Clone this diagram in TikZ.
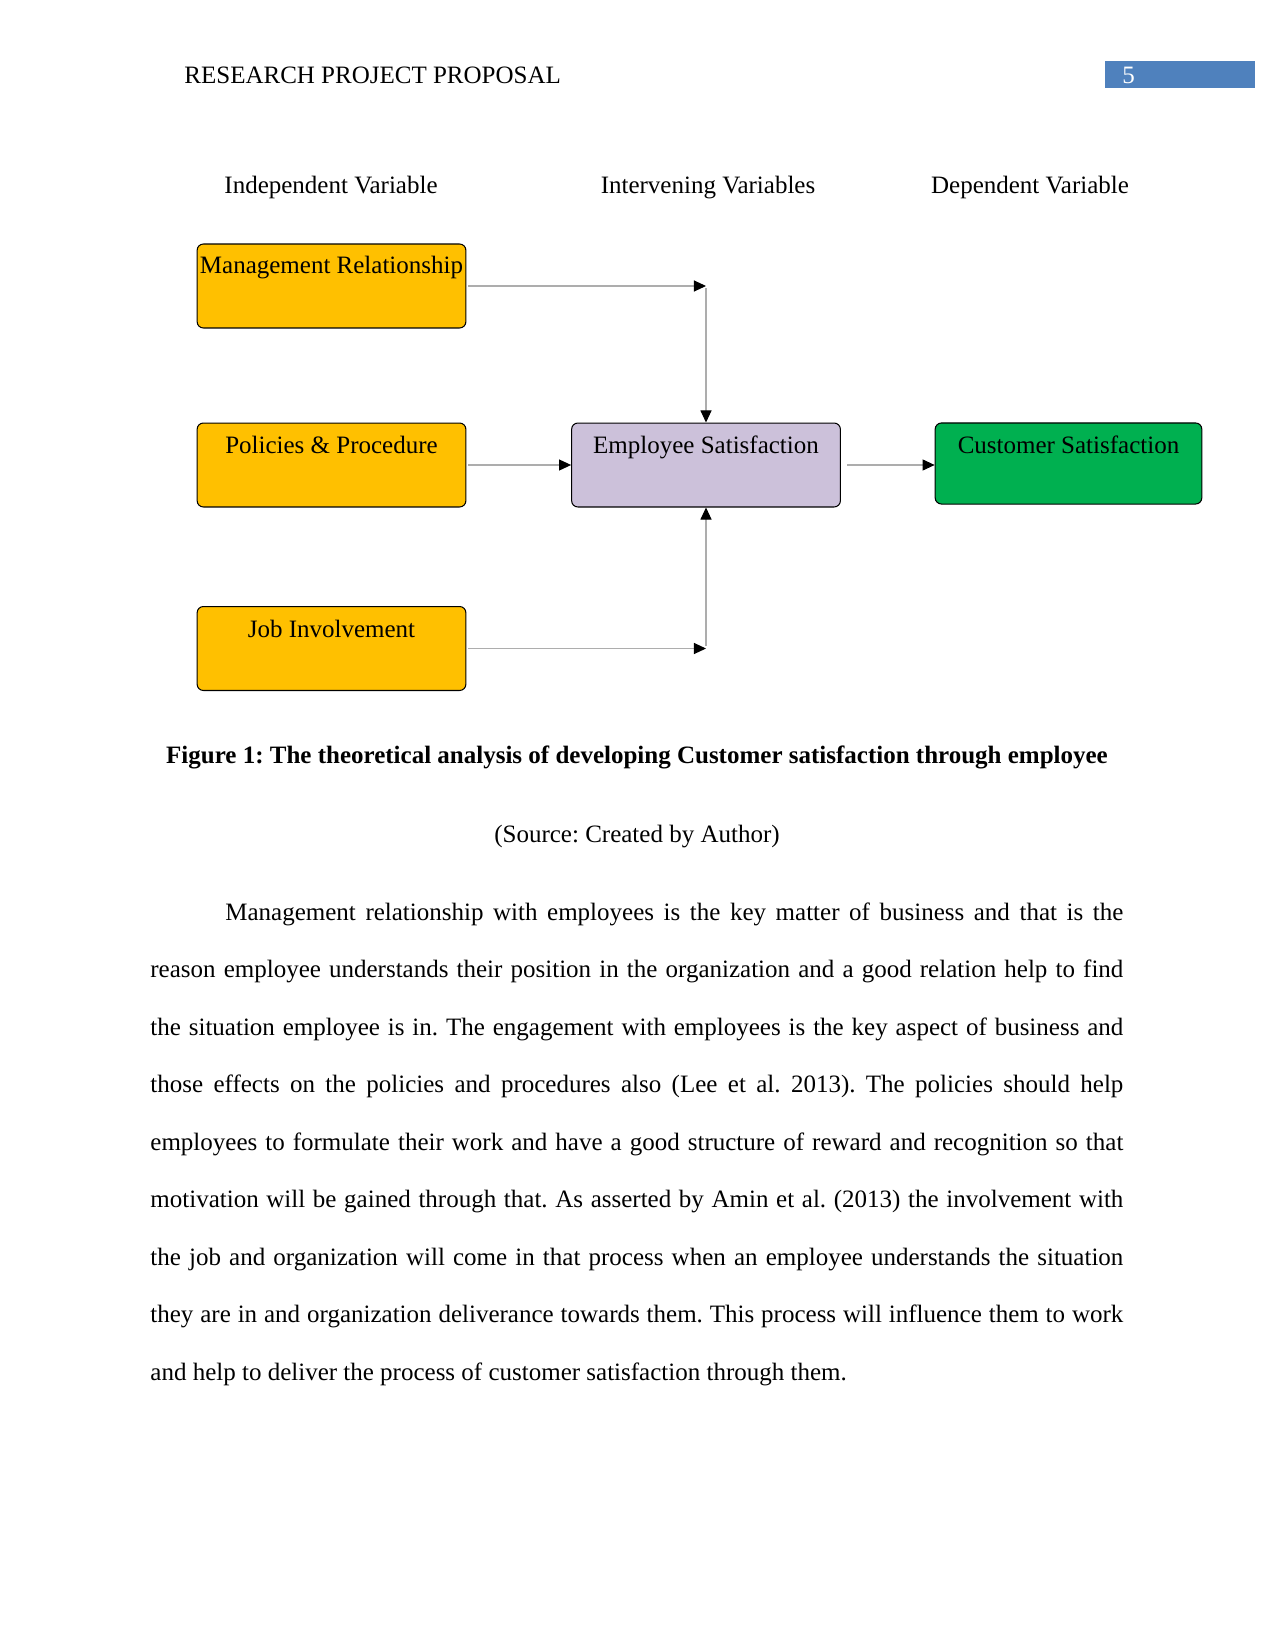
\documentclass[tikz,border=0pt]{standalone}
\usepackage{fontspec}
\setmainfont{Liberation Serif}
\usepackage{tikz}
\usetikzlibrary{arrows.meta}
\definecolor{mgmtyellow}{HTML}{FFC000}
\definecolor{empviolet}{HTML}{CCC1DA}
\definecolor{custgreen}{HTML}{00B050}
\definecolor{pageblue}{HTML}{4F81BD}
\tikzset{
  varbox/.style={draw=black, line width=0.5pt, rounded corners=3pt,
    minimum width=129pt, inner xsep=0pt, inner ysep=0pt,
    text height=14.8pt, text depth=25.5pt, align=center},
  link/.style={draw=black!32, line width=0.5pt,
    -{Triangle[length=5.8pt,width=5.3pt,color=black]}},
}
\frenchspacing
\begin{document}
\begin{tikzpicture}[x=0.48pt,y=-0.48pt,font=\fontsize{12}{14}\selectfont]
  \useasboundingbox (0,0) rectangle (1275,1651);
  % running head
  \node[anchor=base west,inner sep=0pt] (head) at (184,84) {RESEARCH PROJECT PROPOSAL};
  \fill[pageblue] (1105,61) rectangle (1255,88);
  \node[anchor=base west,inner sep=0pt,text=white] (pageno) at (1122,84) {5};
  % column titles
  \node[anchor=base] (indep) at (331,194) {Independent Variable};
  \node[anchor=base] (interv) at (708,194) {Intervening Variables};
  \node[anchor=base] (dep) at (1030,194) {Dependent Variable};
  % variables
  \node[varbox,fill=mgmtyellow,text height=14pt,text depth=26.3pt] (mr) at (331.5,286) {Management Relationship};
  \node[varbox,fill=mgmtyellow] (pp) at (331.5,465) {Policies \& Procedure};
  \node[varbox,fill=mgmtyellow] (ji) at (331.5,648.5) {Job Involvement};
  \node[varbox,fill=empviolet] (es) at (706,465) {Employee Satisfaction};
  \node[varbox,fill=custgreen,minimum width=128pt,text depth=24.1pt] (cs) at (1068.5,463.5) {Customer Satisfaction};
  % connectors
  \coordinate (mrturn) at (mr.east -| es.north);
  \coordinate (jiturn) at (ji.east -| es.south);
  \draw[link,shorten <=1pt] (mr.east) -- (mrturn);
  \draw[link,shorten <=1pt] (mrturn) -- (es.north);
  \draw[link,shorten <=1pt] (ji.east) -- (jiturn);
  \draw[link,shorten <=1pt] (jiturn) -- (es.south);
  \draw[link,shorten <=1pt] (pp.east) -- (es.west);
  \draw[link,shorten <=3pt] (es.east) -- (es.east -| cs.west);
  % caption
  \node[anchor=base,font=\fontsize{12}{14}\selectfont\bfseries] (cap) at (637,763)
    {Figure 1: The theoretical analysis of developing Customer satisfaction through employee};
  \node[anchor=base] (src) at (637,842) {(Source: Created by Author)};
  % body text
  \node[anchor=north west,inner sep=0pt,text width=467pt,align=justify,
    font=\fontsize{12}{27.6}\selectfont] (body) at (150,878.3)
    {\frenchspacing\hyphenpenalty=10000\tolerance=10000\rule{0pt}{20pt}\hspace*{36pt}Management relationship with employees is the key matter of business and that is the\linebreak
    reason employee understands their position in the organization and a good relation help to find\linebreak
    the situation employee is in. The engagement with employees is the key aspect of business and\linebreak
    those effects on the policies and procedures also (Lee et al. 2013). The policies should help\linebreak
    employees to formulate their work and have a good structure of reward and recognition so that\linebreak
    motivation will be gained through that. As asserted by Amin et al. (2013) the involvement with\linebreak
    the job and organization will come in that process when an employee understands the situation\linebreak
    they are in and organization deliverance towards them. This process will influence them to work\linebreak
    and help to deliver the process of customer satisfaction through them.};
\end{tikzpicture}
\end{document}
